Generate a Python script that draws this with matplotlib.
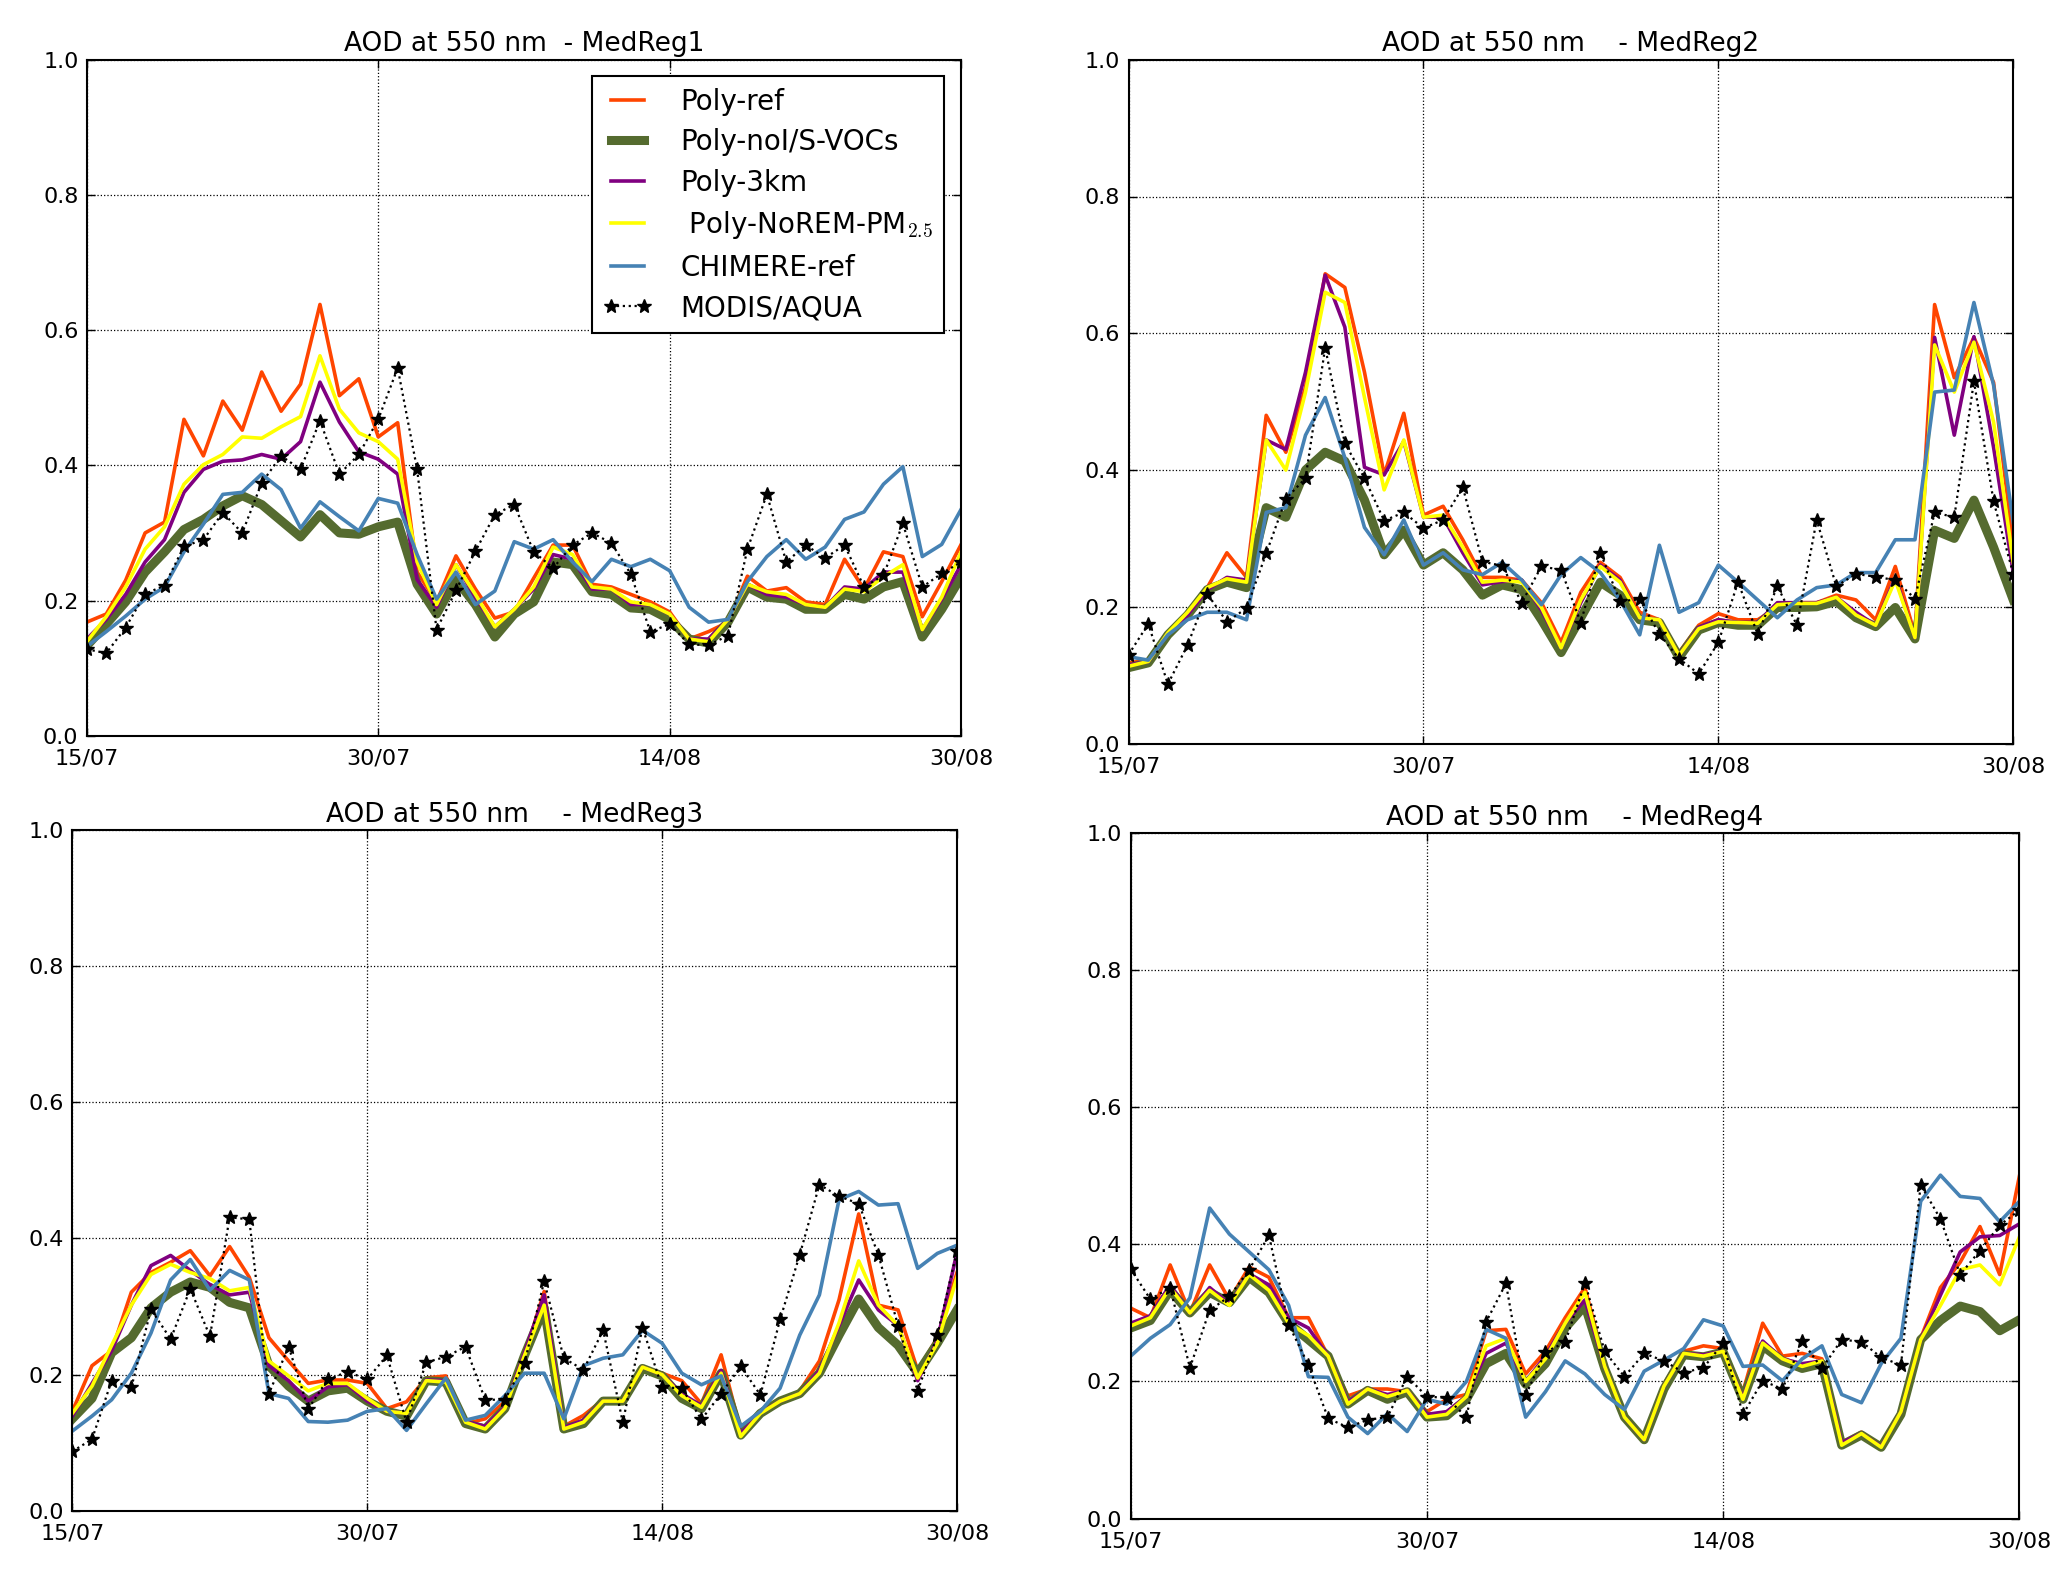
import matplotlib
matplotlib.use("Agg")
import matplotlib.pyplot as plt
import numpy as np

# daily AOD values, 15/07 .. 30/08 (one value per day)
date_ticks = [0, 15, 30, 45]
date_labels = ["15/07", "30/07", "14/08", "30/08"]
regions = ["MedReg1", "MedReg2", "MedReg3", "MedReg4"]
titles = ["AOD at 550 nm  - MedReg1", "AOD at 550 nm    - MedReg2",
          "AOD at 550 nm    - MedReg3", "AOD at 550 nm    - MedReg4"]

# --- MedReg1 ---
poly_ref_1 = [0.168, 0.180, 0.230, 0.300, 0.316, 0.468, 0.414, 0.495, 0.452, 0.538,
              0.480, 0.520, 0.638, 0.503, 0.528, 0.442, 0.463, 0.242, 0.198, 0.266,
              0.217, 0.174, 0.183, 0.233, 0.282, 0.282, 0.224, 0.220, 0.209, 0.198,
              0.183, 0.143, 0.154, 0.168, 0.236, 0.214, 0.219, 0.198, 0.194, 0.261,
              0.217, 0.272, 0.265, 0.176, 0.228, 0.283]
no_isvoc_1 = [0.133, 0.165, 0.198, 0.242, 0.272, 0.305, 0.320, 0.340, 0.355, 0.342,
              0.318, 0.294, 0.327, 0.300, 0.298, 0.309, 0.316, 0.224, 0.180, 0.231,
              0.194, 0.146, 0.180, 0.198, 0.257, 0.253, 0.213, 0.209, 0.189, 0.187,
              0.172, 0.143, 0.137, 0.168, 0.220, 0.205, 0.202, 0.187, 0.187, 0.209,
              0.202, 0.220, 0.228, 0.146, 0.187, 0.235]
poly_3km_1 = [0.143, 0.172, 0.209, 0.257, 0.290, 0.360, 0.394, 0.406, 0.408, 0.416,
              0.409, 0.435, 0.523, 0.464, 0.420, 0.409, 0.387, 0.231, 0.190, 0.253,
              0.205, 0.161, 0.187, 0.217, 0.268, 0.261, 0.217, 0.217, 0.194, 0.194,
              0.180, 0.143, 0.143, 0.172, 0.224, 0.209, 0.205, 0.194, 0.190, 0.220,
              0.217, 0.242, 0.242, 0.157, 0.202, 0.253]
norem_1 = [0.139, 0.176, 0.220, 0.276, 0.309, 0.372, 0.401, 0.416, 0.442, 0.440,
           0.457, 0.472, 0.562, 0.483, 0.448, 0.435, 0.409, 0.257, 0.194, 0.253,
           0.209, 0.161, 0.187, 0.220, 0.279, 0.268, 0.220, 0.217, 0.198, 0.194,
           0.180, 0.143, 0.139, 0.172, 0.224, 0.213, 0.209, 0.194, 0.190, 0.217,
           0.213, 0.235, 0.253, 0.157, 0.205, 0.272]
chimere_1 = [0.132, 0.154, 0.177, 0.202, 0.220, 0.272, 0.313, 0.357, 0.360, 0.387,
             0.364, 0.307, 0.346, 0.324, 0.303, 0.351, 0.344, 0.268, 0.202, 0.242,
             0.194, 0.214, 0.287, 0.276, 0.290, 0.257, 0.228, 0.261, 0.250, 0.261,
             0.244, 0.190, 0.168, 0.172, 0.228, 0.265, 0.290, 0.261, 0.279, 0.320,
             0.331, 0.372, 0.398, 0.265, 0.283, 0.335]
modis_1 = [0.128, 0.122, 0.160, 0.210, 0.222, 0.280, 0.290, 0.330, 0.300, 0.374,
           0.414, 0.394, 0.466, 0.387, 0.416, 0.468, 0.544, 0.394, 0.157, 0.215,
           0.273, 0.327, 0.342, 0.272, 0.248, 0.282, 0.300, 0.285, 0.239, 0.154,
           0.165, 0.135, 0.134, 0.148, 0.276, 0.357, 0.257, 0.282, 0.263, 0.282,
           0.220, 0.237, 0.314, 0.220, 0.240, 0.257]

# --- MedReg2 ---
poly_ref_2 = [0.118, 0.122, 0.162, 0.188, 0.228, 0.279, 0.243, 0.480, 0.426, 0.521,
              0.687, 0.667, 0.543, 0.393, 0.483, 0.334, 0.347, 0.298, 0.243, 0.243,
              0.239, 0.206, 0.148, 0.221, 0.265, 0.243, 0.192, 0.181, 0.133, 0.173,
              0.190, 0.181, 0.181, 0.199, 0.206, 0.206, 0.217, 0.210, 0.181, 0.259,
              0.159, 0.642, 0.535, 0.594, 0.528, 0.290]
no_isvoc_2 = [0.111, 0.118, 0.159, 0.188, 0.225, 0.236, 0.228, 0.345, 0.331, 0.400,
              0.426, 0.413, 0.356, 0.276, 0.312, 0.261, 0.279, 0.254, 0.217, 0.232,
              0.225, 0.181, 0.133, 0.184, 0.236, 0.217, 0.181, 0.177, 0.126, 0.166,
              0.177, 0.173, 0.173, 0.199, 0.199, 0.200, 0.208, 0.184, 0.171, 0.199,
              0.153, 0.312, 0.300, 0.356, 0.287, 0.210]
poly_3km_2 = [0.115, 0.120, 0.161, 0.188, 0.225, 0.243, 0.239, 0.444, 0.430, 0.543,
              0.685, 0.609, 0.404, 0.393, 0.442, 0.331, 0.331, 0.279, 0.232, 0.237,
              0.239, 0.195, 0.140, 0.206, 0.261, 0.239, 0.184, 0.181, 0.129, 0.170,
              0.181, 0.177, 0.177, 0.206, 0.206, 0.206, 0.214, 0.192, 0.173, 0.243,
              0.155, 0.594, 0.451, 0.595, 0.433, 0.250]
norem_2 = [0.113, 0.120, 0.162, 0.192, 0.228, 0.241, 0.236, 0.444, 0.400, 0.514,
           0.660, 0.645, 0.506, 0.371, 0.444, 0.331, 0.334, 0.287, 0.236, 0.239,
           0.236, 0.199, 0.140, 0.210, 0.259, 0.236, 0.184, 0.181, 0.129, 0.168,
           0.178, 0.177, 0.176, 0.203, 0.205, 0.205, 0.214, 0.188, 0.173, 0.239,
           0.155, 0.583, 0.514, 0.587, 0.470, 0.265]
chimere_2 = [0.127, 0.122, 0.159, 0.181, 0.192, 0.192, 0.181, 0.338, 0.345, 0.451,
             0.506, 0.418, 0.316, 0.276, 0.327, 0.261, 0.279, 0.254, 0.247, 0.265,
             0.239, 0.203, 0.247, 0.272, 0.250, 0.210, 0.159, 0.290, 0.192, 0.206,
             0.261, 0.236, 0.210, 0.184, 0.210, 0.228, 0.232, 0.250, 0.250, 0.298,
             0.298, 0.514, 0.517, 0.645, 0.524, 0.323]
modis_2 = [0.130, 0.175, 0.087, 0.144, 0.219, 0.178, 0.198, 0.278, 0.358, 0.388,
           0.579, 0.439, 0.388, 0.326, 0.338, 0.315, 0.327, 0.375, 0.266, 0.260,
           0.206, 0.259, 0.254, 0.177, 0.279, 0.208, 0.211, 0.160, 0.124, 0.102,
           0.148, 0.236, 0.160, 0.230, 0.173, 0.327, 0.230, 0.248, 0.244, 0.239,
           0.212, 0.338, 0.331, 0.530, 0.354, 0.248]

# --- MedReg3 ---
poly_ref_3 = [0.146, 0.213, 0.235, 0.321, 0.350, 0.365, 0.382, 0.345, 0.388, 0.343,
              0.254, 0.220, 0.187, 0.192, 0.192, 0.187, 0.150, 0.160, 0.195, 0.198,
              0.128, 0.135, 0.160, 0.228, 0.322, 0.124, 0.140, 0.163, 0.161, 0.211,
              0.202, 0.191, 0.157, 0.229, 0.117, 0.143, 0.161, 0.176, 0.220, 0.310,
              0.436, 0.302, 0.295, 0.206, 0.254, 0.350]
no_isvoc_3 = [0.135, 0.165, 0.232, 0.254, 0.298, 0.321, 0.336, 0.328, 0.306, 0.298,
              0.213, 0.183, 0.161, 0.176, 0.180, 0.161, 0.146, 0.139, 0.191, 0.189,
              0.128, 0.120, 0.150, 0.228, 0.298, 0.120, 0.128, 0.161, 0.161, 0.209,
              0.198, 0.165, 0.150, 0.202, 0.111, 0.143, 0.161, 0.172, 0.202, 0.258,
              0.311, 0.269, 0.243, 0.202, 0.246, 0.295]
poly_3km_3 = [0.139, 0.187, 0.235, 0.302, 0.360, 0.375, 0.353, 0.332, 0.317, 0.321,
              0.213, 0.191, 0.161, 0.182, 0.185, 0.161, 0.146, 0.143, 0.192, 0.191,
              0.131, 0.124, 0.152, 0.232, 0.317, 0.122, 0.133, 0.161, 0.161, 0.211,
              0.200, 0.172, 0.154, 0.206, 0.113, 0.144, 0.161, 0.172, 0.206, 0.272,
              0.339, 0.295, 0.272, 0.191, 0.250, 0.380]
norem_3 = [0.143, 0.183, 0.243, 0.302, 0.347, 0.362, 0.350, 0.341, 0.323, 0.328,
           0.220, 0.198, 0.176, 0.187, 0.187, 0.165, 0.146, 0.143, 0.191, 0.189,
           0.130, 0.120, 0.150, 0.228, 0.302, 0.120, 0.130, 0.161, 0.161, 0.211,
           0.200, 0.169, 0.152, 0.202, 0.109, 0.143, 0.161, 0.172, 0.202, 0.276,
           0.367, 0.302, 0.272, 0.195, 0.246, 0.343]
chimere_3 = [0.117, 0.139, 0.163, 0.202, 0.261, 0.339, 0.369, 0.324, 0.353, 0.339,
             0.172, 0.165, 0.131, 0.130, 0.133, 0.146, 0.150, 0.118, 0.157, 0.195,
             0.133, 0.140, 0.169, 0.202, 0.202, 0.135, 0.213, 0.224, 0.229, 0.265,
             0.246, 0.202, 0.185, 0.198, 0.124, 0.146, 0.180, 0.258, 0.317, 0.457,
             0.469, 0.449, 0.451, 0.356, 0.378, 0.390]
modis_3 = [0.087, 0.105, 0.191, 0.181, 0.296, 0.252, 0.326, 0.256, 0.431, 0.428,
           0.172, 0.241, 0.150, 0.193, 0.204, 0.193, 0.228, 0.130, 0.218, 0.226,
           0.241, 0.163, 0.163, 0.217, 0.337, 0.224, 0.207, 0.265, 0.130, 0.269,
           0.181, 0.180, 0.134, 0.172, 0.212, 0.170, 0.281, 0.376, 0.479, 0.462,
           0.451, 0.376, 0.272, 0.176, 0.258, 0.382]

# --- MedReg4 ---
poly_ref_4 = [0.307, 0.293, 0.370, 0.300, 0.370, 0.319, 0.367, 0.352, 0.293, 0.293,
              0.237, 0.179, 0.189, 0.189, 0.185, 0.156, 0.174, 0.181, 0.274, 0.276,
              0.211, 0.244, 0.293, 0.337, 0.226, 0.152, 0.115, 0.196, 0.244, 0.252,
              0.248, 0.185, 0.285, 0.237, 0.241, 0.233, 0.111, 0.126, 0.104, 0.159,
              0.263, 0.337, 0.374, 0.426, 0.356, 0.500]
no_isvoc_4 = [0.278, 0.289, 0.333, 0.300, 0.330, 0.315, 0.352, 0.330, 0.285, 0.261,
              0.237, 0.167, 0.187, 0.174, 0.185, 0.148, 0.150, 0.174, 0.226, 0.241,
              0.196, 0.226, 0.278, 0.311, 0.219, 0.148, 0.115, 0.189, 0.239, 0.236,
              0.243, 0.174, 0.252, 0.230, 0.219, 0.226, 0.107, 0.122, 0.104, 0.152,
              0.261, 0.289, 0.310, 0.302, 0.274, 0.290]
poly_3km_4 = [0.285, 0.296, 0.341, 0.300, 0.337, 0.313, 0.357, 0.341, 0.293, 0.278,
              0.237, 0.170, 0.189, 0.181, 0.187, 0.152, 0.156, 0.178, 0.241, 0.256,
              0.200, 0.237, 0.285, 0.319, 0.222, 0.148, 0.115, 0.193, 0.241, 0.239,
              0.244, 0.176, 0.259, 0.233, 0.226, 0.230, 0.111, 0.124, 0.105, 0.156,
              0.261, 0.326, 0.389, 0.411, 0.413, 0.430]
norem_4 = [0.281, 0.293, 0.337, 0.300, 0.333, 0.311, 0.356, 0.333, 0.285, 0.267,
           0.237, 0.167, 0.189, 0.178, 0.187, 0.148, 0.152, 0.178, 0.252, 0.263,
           0.200, 0.233, 0.285, 0.330, 0.222, 0.148, 0.115, 0.193, 0.241, 0.237,
           0.244, 0.174, 0.256, 0.233, 0.222, 0.230, 0.107, 0.124, 0.104, 0.156,
           0.261, 0.311, 0.363, 0.370, 0.341, 0.411]
chimere_4 = [0.237, 0.263, 0.283, 0.322, 0.453, 0.415, 0.389, 0.363, 0.311, 0.207,
             0.206, 0.148, 0.124, 0.153, 0.127, 0.174, 0.167, 0.200, 0.276, 0.263,
             0.148, 0.185, 0.230, 0.211, 0.181, 0.159, 0.215, 0.231, 0.248, 0.290,
             0.281, 0.222, 0.224, 0.201, 0.233, 0.252, 0.181, 0.169, 0.226, 0.263,
             0.463, 0.501, 0.470, 0.467, 0.433, 0.463]
modis_4 = [0.364, 0.320, 0.337, 0.220, 0.304, 0.324, 0.363, 0.413, 0.283, 0.224,
           0.146, 0.133, 0.144, 0.148, 0.207, 0.178, 0.176, 0.148, 0.287, 0.343,
           0.180, 0.243, 0.257, 0.344, 0.244, 0.207, 0.241, 0.230, 0.213, 0.220,
           0.256, 0.152, 0.201, 0.189, 0.259, 0.219, 0.261, 0.258, 0.235, 0.224,
           0.487, 0.437, 0.356, 0.391, 0.428, 0.450]

poly_ref = [poly_ref_1, poly_ref_2, poly_ref_3, poly_ref_4]
no_isvoc = [no_isvoc_1, no_isvoc_2, no_isvoc_3, no_isvoc_4]
poly_3km = [poly_3km_1, poly_3km_2, poly_3km_3, poly_3km_4]
norem = [norem_1, norem_2, norem_3, norem_4]
chimere = [chimere_1, chimere_2, chimere_3, chimere_4]
modis = [modis_1, modis_2, modis_3, modis_4]

plt.rcParams["font.family"] = ["DejaVu Sans"]
plt.rcParams["mathtext.fontset"] = "cm"

# axes boxes [left, bottom, width, height] in figure fractions
boxes = [[0.042, 0.532, 0.423, 0.430],
         [0.546, 0.527, 0.428, 0.435],
         [0.035, 0.039, 0.428, 0.433],
         [0.547, 0.034, 0.430, 0.436]]


def draw_region(ax, k):
    """Plot all model runs and MODIS for one region."""
    days = np.arange(len(modis[k]))
    ax.plot(days, poly_ref[k], color="orangered", lw=2.6, label="Poly-ref")
    ax.plot(days, no_isvoc[k], color="darkolivegreen", lw=6.5, label="Poly-noI/S-VOCs")
    ax.plot(days, poly_3km[k], color="purple", lw=2.6, label="Poly-3km")
    ax.plot(days, norem[k], color="yellow", lw=2.6, label=r" Poly-NoREM-PM$_{2.5}$")
    ax.plot(days, chimere[k], color="steelblue", lw=2.6, label="CHIMERE-ref")
    ax.plot(days, modis[k], "k:*", lw=1.6, markersize=10, label="MODIS/AQUA")

    ax.set_xlim(0, 45)
    ax.set_ylim(0, 1.0)
    ax.set_xticks(date_ticks)
    ax.set_xticklabels(date_labels)
    ax.set_yticks(np.arange(0, 1.01, 0.2))
    ax.set_yticklabels(["%.1f" % v for v in np.arange(0, 1.01, 0.2)])
    ax.grid(True, color="black", linestyle=":", linewidth=0.9)
    ax.tick_params(direction="in", length=6, width=1, labelsize=16,
                   top=True, right=True)
    ax.tick_params(axis="x", pad=9)
    ax.tick_params(axis="y", pad=6)
    for sp in ax.spines.values():
        sp.set_linewidth(1.5)
    ax.set_title(titles[k], fontsize=19, pad=6)


fig = plt.figure(figsize=(20.67, 15.72), dpi=100)
fig.patch.set_facecolor("white")

for k in range(4):
    ax = fig.add_axes(boxes[k])
    draw_region(ax, k)
    if k == 0:
        leg = ax.legend(loc="upper right", fontsize=20, numpoints=2, handlelength=1.8,
                        handletextpad=1.0, labelspacing=0.45, borderaxespad=0.6,
                        fancybox=False, framealpha=1.0, edgecolor="black")
        leg.get_frame().set_linewidth(1.5)

fig.savefig("out.png", dpi=100, facecolor="white")
